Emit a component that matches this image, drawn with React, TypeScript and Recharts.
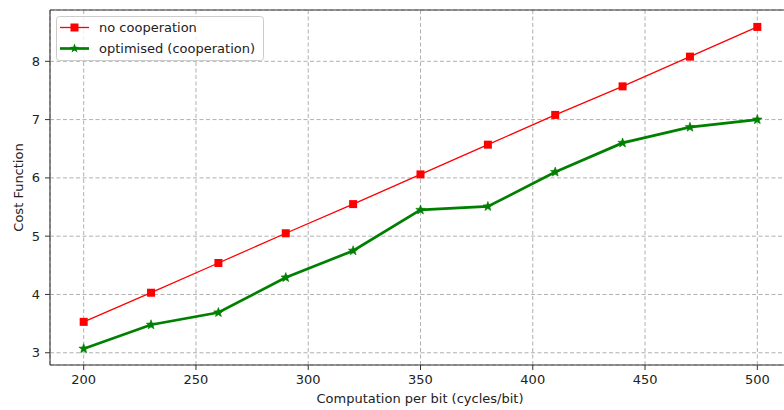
import React from 'react';
import {
  LineChart,
  Line,
  XAxis,
  YAxis,
  CartesianGrid,
  ReferenceLine,
} from 'recharts';

// computation per bit (cycles/bit)
const cyclesPerBit = [200, 230, 260, 290, 320, 350, 380, 410, 440, 470, 500];
const noCooperation = [3.53, 4.03, 4.54, 5.05, 5.55, 6.06, 6.57, 7.08, 7.57, 8.08, 8.59];
const optimisedCooperation = [3.07, 3.48, 3.69, 4.29, 4.75, 5.45, 5.51, 6.1, 6.6, 6.87, 7.0];

const xTicks = [200, 250, 300, 350, 400, 450, 500];
const yTicks = [3, 4, 5, 6, 7, 8];
const X_DOMAIN: [number, number] = [185, 515];
const Y_DOMAIN: [number, number] = [2.79, 8.88];

const FONT = '"DejaVu Sans", Verdana, sans-serif';
const RED = '#ff0000';
const GREEN = '#008000';

const starPoints = (cx: number, cy: number, outer: number, inner: number) => {
  const pts: string[] = [];
  for (let i = 0; i < 10; i++) {
    const r = i % 2 === 0 ? outer : inner;
    const a = -Math.PI / 2 + (i * Math.PI) / 5;
    pts.push(`${cx + r * Math.cos(a)},${cy + r * Math.sin(a)}`);
  }
  return pts.join(' ');
};

const SquareDot = (props: any) => {
  const { cx, cy, index } = props;
  if (cx == null || cy == null) return <g key={`sq-${index}`} />;
  return <rect key={`sq-${index}`} x={cx - 4} y={cy - 4} width={8} height={8} fill={RED} />;
};

const StarDot = (props: any) => {
  const { cx, cy, index } = props;
  if (cx == null || cy == null) return <g key={`st-${index}`} />;
  return (
    <polygon
      key={`st-${index}`}
      points={starPoints(cx, cy, 5, 2.1)}
      fill={GREEN}
      stroke={GREEN}
      strokeWidth={0.6}
    />
  );
};

// matplotlib-style legend box, drawn over the top-left of the plot
const LegendBox = () => (
  <svg width={212} height={46} style={{ display: 'block' }}>
    <rect x={0.5} y={0.5} width={207} height={44} rx={3} fill="#fff" fillOpacity={0.8} stroke="#cccccc" />
    <line x1={4} y1={11.5} x2={33} y2={11.5} stroke={RED} strokeWidth={1.3} />
    <rect x={14.5} y={7.5} width={8} height={8} fill={RED} />
    <text x={43} y={16} fontSize={13} fontFamily={FONT} fill="#222">
      no cooperation
    </text>
    <line x1={4} y1={32.5} x2={33} y2={32.5} stroke={GREEN} strokeWidth={2.7} />
    <polygon points={starPoints(18.5, 32.5, 5, 2.1)} fill={GREEN} />
    <text x={43} y={37} fontSize={13} fontFamily={FONT} fill="#222">
      optimised (cooperation)
    </text>
  </svg>
);

export default function App() {
  const rows = cyclesPerBit.map((x, i) => ({
    x,
    noCoop: noCooperation[i],
    optimised: optimisedCooperation[i],
  }));

  const tickStyle = { fontSize: 13, fontFamily: FONT, fill: '#222' };

  return (
    <div
      style={{
        position: 'fixed',
        left: 0,
        top: 0,
        width: 784,
        height: 410,
        overflow: 'hidden',
        background: '#fff',
      }}
    >
      <LineChart width={800} height={410} data={rows} margin={{ top: 10, right: 9, bottom: 0, left: 0 }}>
        <CartesianGrid stroke="#b0b0b0" strokeDasharray="4 2.5" strokeWidth={1} />
        <XAxis
          dataKey="x"
          type="number"
          domain={X_DOMAIN}
          ticks={xTicks}
          allowDataOverflow
          height={45}
          tick={tickStyle}
          tickSize={5}
          tickMargin={5}
          stroke="#333"
          axisLine={{ stroke: '#333', strokeWidth: 1.1 }}
          tickLine={{ stroke: '#333' }}
          label={{
            content: () => (
              <text x={420} y={403} textAnchor="middle" fontSize={13} fontFamily={FONT} fill="#222">
                Computation per bit (cycles/bit)
              </text>
            ),
          }}
        />
        <YAxis
          type="number"
          domain={Y_DOMAIN}
          ticks={yTicks}
          allowDataOverflow
          width={50}
          tick={tickStyle}
          tickSize={5}
          tickMargin={5}
          stroke="#333"
          axisLine={{ stroke: '#333', strokeWidth: 1.1 }}
          tickLine={{ stroke: '#333' }}
          label={{
            content: () => (
              <text
                x={23}
                y={187.5}
                transform="rotate(-90 23 187.5)"
                textAnchor="middle"
                fontSize={13}
                fontFamily={FONT}
                fill="#222"
              >
                Cost Function
              </text>
            ),
          }}
        />
        <ReferenceLine y={Y_DOMAIN[1]} stroke="#333" strokeWidth={1.1} />
        <Line
          type="linear"
          dataKey="noCoop"
          name="no cooperation"
          stroke={RED}
          strokeWidth={1.3}
          dot={SquareDot}
          activeDot={false}
          isAnimationActive={false}
        />
        <Line
          type="linear"
          dataKey="optimised"
          name="optimised (cooperation)"
          stroke={GREEN}
          strokeWidth={2.7}
          dot={StarDot}
          activeDot={false}
          isAnimationActive={false}
        />
      </LineChart>
      <div style={{ position: 'absolute', left: 56, top: 16 }}>
        <LegendBox />
      </div>
    </div>
  );
}
